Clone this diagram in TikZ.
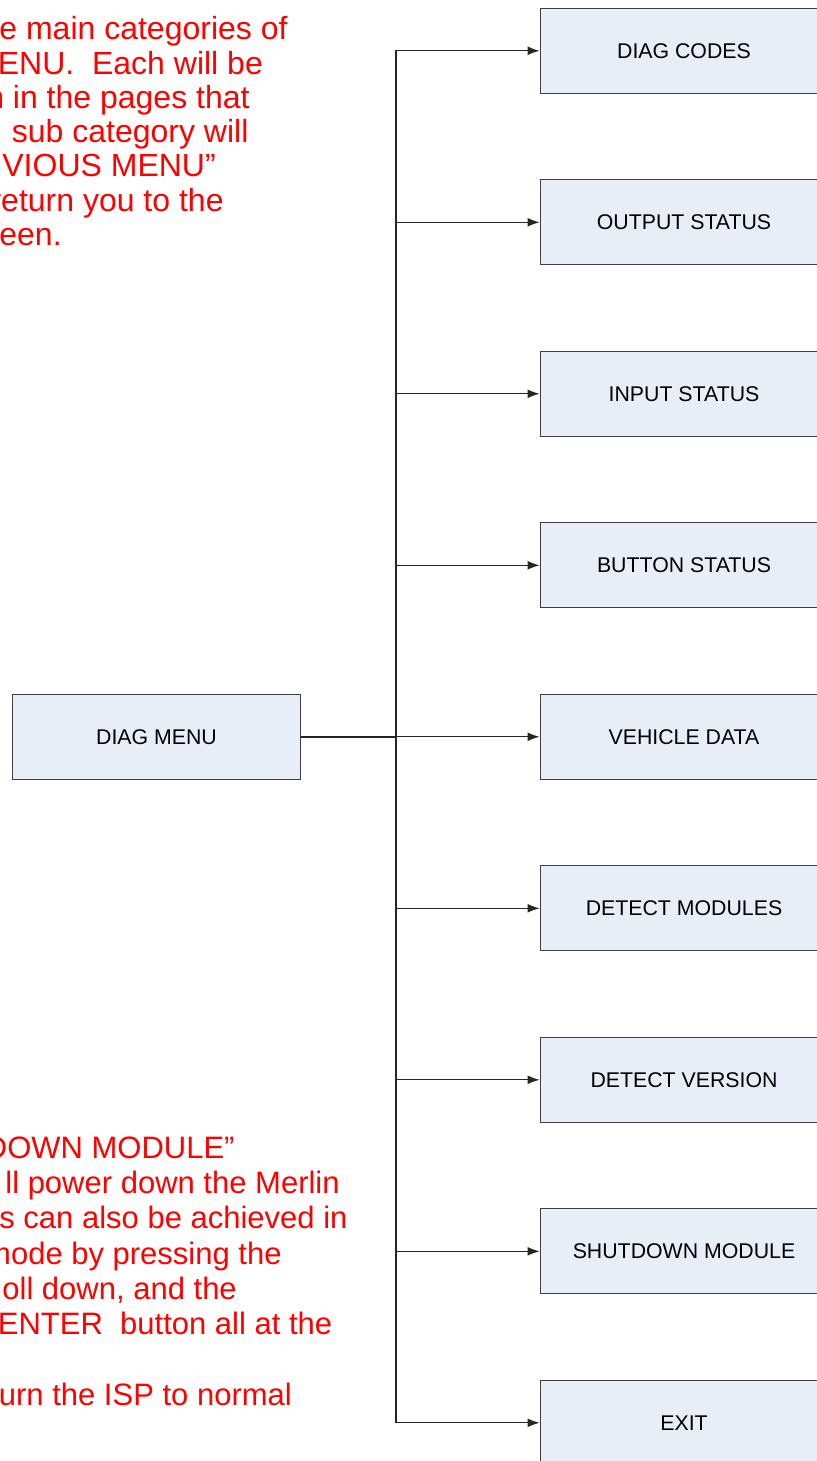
\documentclass[tikz,border=0pt]{standalone}
\usepackage{fontspec}
\setmainfont{Liberation Sans}
\usetikzlibrary{arrows.meta}
\definecolor{boxblue}{HTML}{E8EEF8}

\begin{document}
\begin{tikzpicture}[x=0.5pt,y=-0.5pt]
        \tikzset{menubox/.style = {shape=rectangle,draw=black!75,fill=boxblue,minimum width=144pt,minimum height=42.5pt,inner sep=0pt,font=\fontsize{10.65}{12}\selectfont}};
        \tikzset{edge/.style = {->,> = {Latex[length=6pt,width=4.4pt]},draw=black!85,line width=0.55pt}};
        \tikzset{note/.style = {text=red,inner sep=0pt,font=\fontsize{15.5}{17}\selectfont}};
        \tikzset{topnote/.style = {note,font=\fontsize{16}{17}\selectfont}};
        \useasboundingbox (0,0) rectangle (817,1461);
        \clip (0,0) rectangle (817,1461);
        \node[menubox] (menu) at (156.5,737) {DIAG MENU};
        \node[menubox] (codes) at (684,50.8) {DIAG CODES};
        \node[menubox] (output) at (684,222.3) {OUTPUT STATUS};
        \node[menubox] (input) at (684,393.8) {INPUT STATUS};
        \node[menubox] (button) at (684,565.3) {BUTTON STATUS};
        \node[menubox] (vehicle) at (684,736.8) {VEHICLE DATA};
        \node[menubox] (modules) at (684,908.3) {DETECT MODULES};
        \node[menubox] (version) at (684,1079.8) {DETECT VERSION};
        \node[menubox] (shutdown) at (684,1251.3) {SHUTDOWN MODULE};
        \node[menubox] (exit) at (684,1422.8) {EXIT};
        \coordinate (split) at (396,737);
        \draw[edge] (menu) -- (split) |- (codes);
        \draw[edge] (menu) -- (split) |- (output);
        \draw[edge] (menu) -- (split) |- (input);
        \draw[edge] (menu) -- (split) |- (button);
        \draw[edge] (menu) -- (split) |- (vehicle);
        \draw[edge] (menu) -- (split) |- (modules);
        \draw[edge] (menu) -- (split) |- (version);
        \draw[edge] (menu) -- (split) |- (shutdown);
        \draw[edge] (menu) -- (split) |- (exit);
        \draw[black!85,line width=1pt] (menu.east) -- (split);
        \node[topnote,anchor=base west] (top1) at (-1,40) {e main categories of};
        \node[topnote,anchor=base west] (top2) at (-2.5,74.2) {ENU.~ Each will be};
        \node[topnote,anchor=base east] (top3) at (250,108.4) {n in the pages that};
        \node[topnote,anchor=base west] (top4) at (11.5,142.6) {sub category will};
        \node[topnote,anchor=base west] (top5) at (2,176.8) {VIOUS MENU”};
        \node[topnote,anchor=base east] (top6) at (224,211) {return you to the};
        \node[topnote,anchor=base west] (top7) at (-1,245.2) {een.};
        \node[note,anchor=base east] (bot1) at (235,1158) {DOWN MODULE”};
        \node[note,anchor=base west] (bot2) at (5,1193) {ll power down the Merlin};
        \node[note,anchor=base west] (bot3) at (-1,1228.5) {s can also be achieved in};
        \node[note,anchor=base east] (bot4) at (282,1264) {mode by pressing the};
        \node[note,anchor=base west] (bot5) at (2,1299) {oll down, and the};
        \node[note,anchor=base west] (bot6) at (-2.5,1334.5) {ENTER~ button all at the};
        \node[note,anchor=base west] (bot7) at (-1.5,1405) {urn the ISP to normal};
    \end{tikzpicture}
\end{document}
